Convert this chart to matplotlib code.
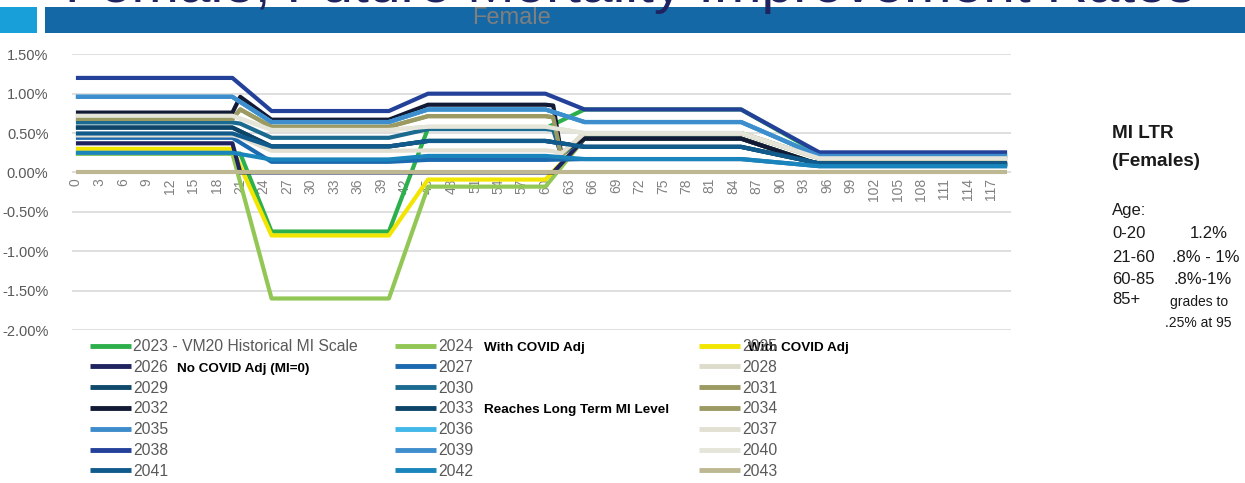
import matplotlib
matplotlib.use("Agg")
import matplotlib.pyplot as plt
from matplotlib import font_manager
from matplotlib.patches import Rectangle
from matplotlib.ticker import FuncFormatter

names = {f.name for f in font_manager.fontManager.ttflist}
def pick(*cands):
    for c in cands:
        if c in names:
            return c
    return "DejaVu Sans"

REG = pick("Liberation Sans", "Arial", "DejaVu Sans")
NARROW = pick("Liberation Sans Narrow", "Liberation Sans")
plt.rcParams["font.family"] = [REG, "DejaVu Sans"]

# ---------------- data (MI rates in %, values at the ages where the lines bend) -------------
ages_std = [0, 20, 25, 40, 45, 60, 65, 85, 95, 119]
ages_dip = [0, 20, 21, 25, 40, 45, 60, 61, 62, 65, 85, 95, 119]
ages_green = [0, 20, 21, 25, 40, 45, 60, 65, 85, 95, 119]
ages_navy = [0, 20, 21, 60, 61, 65, 85, 95, 119]

mi_2023 = [0.24, 0.24, 0.24, -0.75, -0.75, 0.56, 0.56, 0.80, 0.80, 0.24, 0.24]
mi_2024 = [0.24, 0.24, -1.60, -1.60, -0.18, -0.18, 0.43, 0.43, 0.10, 0.10]
mi_2025 = [0.30, 0.30, -0.80, -0.80, -0.09, -0.09, 0.43, 0.43, 0.10, 0.10]
mi_2026 = [0.37, 0.37, 0.00, 0.00, 0.00, 0.43, 0.43, 0.10, 0.10]
mi_2027 = [0.44, 0.44, 0.135, 0.135, 0.16, 0.16, 0.17, 0.17, 0.08, 0.08]
mi_2028 = [0.72, 0.72, 0.54, 0.54, 0.58, 0.58, 0.50, 0.50, 0.18, 0.18]
mi_2029 = [0.57, 0.57, 0.33, 0.33, 0.40, 0.40, 0.325, 0.325, 0.115, 0.115]
mi_2030 = [0.635, 0.635, 0.62, 0.44, 0.44, 0.55, 0.55, 0.54, 0.22, 0.43, 0.43, 0.10, 0.10]
mi_2031 = [0.68, 0.68, 0.80, 0.58, 0.58, 0.715, 0.715, 0.70, 0.22, 0.50, 0.50, 0.18, 0.18]
mi_2032 = [0.76, 0.76, 0.96, 0.67, 0.67, 0.86, 0.86, 0.85, 0.25, 0.43, 0.43, 0.10, 0.10]
mi_2033 = [0.57, 0.57, 0.33, 0.33, 0.40, 0.40, 0.325, 0.325, 0.115, 0.115]
mi_2034 = [0.68, 0.68, 0.80, 0.58, 0.58, 0.715, 0.715, 0.70, 0.22, 0.50, 0.50, 0.18, 0.18]
mi_2035 = [0.96, 0.96, 0.64, 0.64, 0.80, 0.80, 0.64, 0.64, 0.21, 0.21]
mi_2036 = [0.96, 0.96, 0.64, 0.64, 0.80, 0.80, 0.64, 0.64, 0.21, 0.21]
mi_2037 = [0.47, 0.47, 0.45, 0.275, 0.275, 0.28, 0.28, 0.27, 0.24, 0.50, 0.50, 0.18, 0.18]
mi_2038 = [1.20, 1.20, 0.78, 0.78, 1.00, 1.00, 0.80, 0.80, 0.255, 0.255]
mi_2039 = [0.96, 0.96, 0.64, 0.64, 0.80, 0.80, 0.64, 0.64, 0.21, 0.21]
mi_2040 = [0.72, 0.72, 0.54, 0.54, 0.58, 0.58, 0.50, 0.50, 0.18, 0.18]
mi_2041 = [0.495, 0.495, 0.33, 0.33, 0.40, 0.40, 0.325, 0.325, 0.115, 0.115]
mi_2042 = [0.25, 0.25, 0.165, 0.165, 0.21, 0.21, 0.17, 0.17, 0.08, 0.08]
mi_2043 = [0.0, 0.0, 0.0, 0.0, 0.0, 0.0, 0.0, 0.0, 0.0, 0.0]

series_labels = ["2023 - VM20 Historical MI Scale"] + [str(y) for y in range(2024, 2044)]
series_ages = [ages_green, ages_std, ages_std, ages_navy, ages_std, ages_std, ages_std,
               ages_dip, ages_dip, ages_dip, ages_std, ages_dip, ages_std, ages_std,
               ages_dip, ages_std, ages_std, ages_std, ages_std, ages_std, ages_std]
series_vals = [mi_2023, mi_2024, mi_2025, mi_2026, mi_2027, mi_2028, mi_2029, mi_2030,
               mi_2031, mi_2032, mi_2033, mi_2034, mi_2035, mi_2036, mi_2037, mi_2038,
               mi_2039, mi_2040, mi_2041, mi_2042, mi_2043]
series_colors = ["#2DB04B", "#92C755", "#F2E500", "#1F2461", "#1B69AE", "#DDDCCB",
                 "#10496B", "#1B6A8F", "#9C9A63", "#131A36", "#0D4569", "#9C9A63",
                 "#3D8BCB", "#41B8E8", "#E2E0D2", "#24419A", "#3E8DCC", "#E6E5DA",
                 "#115A8C", "#1A84BC", "#BDB892"]

age_ticks = list(range(0, 120, 3))
y_ticks = [1.5, 1.0, 0.5, 0.0, -0.5, -1.0, -1.5, -2.0]

# ---------------- figure ----------------
W, H = 1245, 483
fig = plt.figure(figsize=(W / 100, H / 100), dpi=100)
fig.patch.set_facecolor("white")

# banner
fig.add_artist(Rectangle((0, 1 - 33 / H), 37 / W, 26 / H, transform=fig.transFigure,
                         facecolor="#189ED8", edgecolor="none", zorder=1))
fig.add_artist(Rectangle((45 / W, 1 - 33 / H), 1 - 45 / W, 26 / H, transform=fig.transFigure,
                         facecolor="#1468A5", edgecolor="none", zorder=1))
fig.text(65 / W, 1 - 1.5 / H, "Female, Future Mortality Improvement Rates", fontsize=41,
         color="#1F2460", ha="left", va="baseline", zorder=3)
fig.text(512 / W, 1 - 18 / H, "Female", fontsize=17, family=NARROW,
         color="#7F7F7F", ha="center", va="center", zorder=3)

ax = fig.add_axes([72 / W, 1 - 330 / H, (1011 - 72) / W, (330 - 54.3) / H])
ax.set_xlim(-0.5, 119.5)
ax.set_ylim(-2.0, 1.5)
ax.set_yticks(y_ticks)
ax.yaxis.set_major_formatter(FuncFormatter(lambda v, p: f"{v:.2f}%"))
ax.grid(axis="y", color="#D9D9D9", lw=1.2)
ax.set_axisbelow(True)
for s in ["top", "right", "left"]:
    ax.spines[s].set_visible(False)
ax.spines["bottom"].set_position(("data", 0))
ax.spines["bottom"].set_visible(False)
ax.set_xticks(age_ticks)
ax.set_xticklabels([str(a) for a in age_ticks], rotation=90, fontsize=10, color="#808080")
ax.tick_params(axis="x", length=0, pad=4)
ax.tick_params(axis="y", length=0, pad=17, labelsize=10.5, labelcolor="#595959")

lines = []
for a, v, c, lab in zip(series_ages, series_vals, series_colors, series_labels):
    ln, = ax.plot(a, v, color=c, lw=3.0, label=lab, solid_joinstyle="round",
                  solid_capstyle="butt", clip_on=False)
    lines.append(ln)

# legend: three columns, row-major order like the reference
col_x = [90, 395, 699]
for c in range(3):
    hs = lines[c::3]
    leg = fig.legend(handles=hs, labels=[h.get_label() for h in hs], loc="upper left",
                     bbox_to_anchor=(col_x[c] / W, 1 - 339 / H), frameon=False, ncol=1,
                     fontsize=11.3, handlelength=2.6, handletextpad=0.15,
                     borderpad=0, borderaxespad=0, labelspacing=0.37)
    for t in leg.get_texts():
        t.set_color("#595959")
    for l in leg.get_lines():
        l.set_linewidth(3.5)

bold_kw = dict(family=NARROW, fontweight="bold", color="black", va="center", ha="left",
               fontsize=11.8 if NARROW == "Liberation Sans Narrow" else 9.7)
fig.text(484 / W, 1 - 348.5 / H, "With COVID Adj", **bold_kw)
fig.text(748 / W, 1 - 348.5 / H, "With COVID Adj", **bold_kw)
fig.text(177 / W, 1 - 369 / H, "No COVID Adj (MI=0)", **bold_kw)
fig.text(484 / W, 1 - 410 / H, "Reaches Long Term MI Level", **bold_kw)

# right-hand notes
fig.text(1112 / W, 1 - 133 / H, "MI LTR", fontsize=13.6, fontweight="bold", color="#1a1a1a", va="center")
fig.text(1112 / W, 1 - 162 / H, "(Females)", fontsize=13.6, fontweight="bold", color="#1a1a1a", va="center")
fig.text(1112 / W, 1 - 211 / H, "Age:", fontsize=12, color="#1a1a1a", va="center")
rows = [("0-20", "1.2%", 233, 1228), ("21-60", ".8% - 1%", 257, 1240), ("60-85", ".8%-1%", 280, 1232)]
for a, r, y, xr in rows:
    fig.text(1112 / W, 1 - y / H, a, fontsize=12, color="#1a1a1a", va="center")
    fig.text(xr / W, 1 - y / H, r, fontsize=12, color="#1a1a1a", va="center", ha="right")
fig.text(1112 / W, 1 - 300 / H, "85+", fontsize=12, color="#1a1a1a", va="center")
fig.text(1199 / W, 1 - 302 / H, "grades to", fontsize=10, color="#1a1a1a", va="center", ha="center")
fig.text(1198 / W, 1 - 323 / H, ".25% at 95", fontsize=10, color="#1a1a1a", va="center", ha="center")

fig.savefig("out.png", dpi=100)
